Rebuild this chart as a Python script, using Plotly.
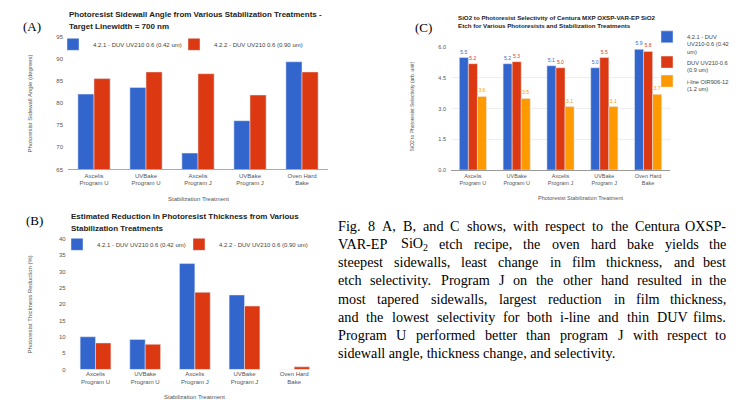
import plotly.graph_objects as go

W, H = 740, 402


def px(x):
    return x / W


def py(y):
    return 1 - y / H


# ---------------- data ----------------
categories = ["Axcelis<br>Program U", "UVBake<br>Program U", "Axcelis<br>Program J",
              "UVBake<br>Program J", "Oven Hard<br>Bake"]

angle_042 = [82.0, 83.5, 68.7, 76.0, 89.3]
angle_090 = [85.5, 87.0, 86.6, 81.8, 87.0]
angle_ticks = [65, 70, 75, 80, 85, 90, 95]
angle_grid = [70, 80, 85]

reduction_042 = [10.0, 9.2, 32.4, 22.8, 0.0]
reduction_090 = [8.1, 7.7, 23.6, 19.4, 0.8]
reduction_ticks = [0, 5, 10, 15, 20, 25, 30, 35, 40]
reduction_grid = [15]

select_042 = [5.5, 5.2, 5.1, 5.0, 5.9]
select_09 = [5.2, 5.3, 5.0, 5.5, 5.8]
select_iline = [3.6, 3.5, 3.1, 3.1, 3.7]
select_ticks = [0, 1.5, 3.0, 4.5, 6.0]
select_ticktext = ["0.0", "1.5", "3.0", "4.5", "6.0"]

BLUE, RED, ORANGE = "#3366cc", "#dc3912", "#ff9900"
SANS = "Liberation Sans, Arial, sans-serif"
SERIF = "Liberation Serif, Times New Roman, serif"

fig = go.Figure()

# ---------------- chart A ----------------
fig.add_trace(go.Bar(x=categories, y=angle_042, name="4.2.1 - DUV UV210 0.6 (0.42 um)",
                     marker_color=BLUE, xaxis="x", yaxis="y", legend="legend", showlegend=True))
fig.add_trace(go.Bar(x=categories, y=angle_090, name="4.2.2 - DUV UV210 0.6 (0.90 um)",
                     marker_color=RED, xaxis="x", yaxis="y", legend="legend4", showlegend=True))

# ---------------- chart B ----------------
fig.add_trace(go.Bar(x=categories, y=reduction_042, name="4.2.1 - DUV UV210 0.6 (0.42 um)",
                     marker_color=BLUE, xaxis="x2", yaxis="y2", legend="legend2", showlegend=True))
fig.add_trace(go.Bar(x=categories, y=reduction_090, name="4.2.2 - DUV UV210 0.6 (0.90 um)",
                     marker_color=RED, xaxis="x2", yaxis="y2", legend="legend5", showlegend=True))

# ---------------- chart C ----------------
for vals, nm, col in [(select_042, "4.2.1 - DUV<br>UV210-0.6 (0.42<br>um)", BLUE),
                      (select_09, "DUV UV210-0.6<br>(0.9 um)", RED),
                      (select_iline, "i-line OIR906-12<br>(1.2 um)", ORANGE)]:
    fig.add_trace(go.Bar(x=categories, y=vals, name=nm, marker_color=col,
                         xaxis="x3", yaxis="y3", legend="legend3", showlegend=True,
                         text=[f"{v:.1f}" for v in vals], textposition="outside",
                         textfont=dict(size=5, color=col, family=SANS), cliponaxis=False))

tickfont = dict(size=6, color="#555", family=SANS)


def hlegend(x, y):
    return dict(orientation="h", x=px(x), y=py(y), xanchor="left", yanchor="middle",
                font=dict(size=6, color="#444", family=SANS), bgcolor="rgba(0,0,0,0)",
                itemwidth=30, itemclick=False, visible=True)


fig.update_layout(
    width=W, height=H, autosize=False, showlegend=True,
    margin=dict(l=0, r=0, t=0, b=0),
    paper_bgcolor="white", plot_bgcolor="white",
    barmode="group", bargap=0.38, bargroupgap=0.0,
    font=dict(family=SANS),
    # A
    xaxis=dict(domain=[px(68), px(328)], anchor="y", type="category", tickfont=tickfont,
               showline=True, linecolor="#aaa", linewidth=1, ticks=""),
    yaxis=dict(domain=[py(169), py(34)], anchor="x", range=[65, 95], tickvals=angle_ticks,
               showgrid=False, zeroline=False, tickfont=tickfont, ticklabelstandoff=4),
    yaxis4=dict(overlaying="y", anchor="x", range=[65, 95], tickvals=angle_grid,
                showgrid=True, gridcolor="#d0d0d0", showticklabels=False, zeroline=False),
    # B
    xaxis2=dict(domain=[px(70.7), px(319)], anchor="y2", type="category", tickfont=tickfont,
                showline=False, ticks=""),
    yaxis2=dict(domain=[py(372), py(239.3)], anchor="x2", range=[0, 40], tickvals=reduction_ticks,
                showgrid=False, zeroline=False, tickfont=tickfont, ticklabelstandoff=4),
    yaxis5=dict(overlaying="y2", anchor="x2", range=[0, 40], tickvals=reduction_grid,
                showgrid=True, gridcolor="#c8c8c8", showticklabels=False, zeroline=False),
    # C
    xaxis3=dict(domain=[px(451), px(670)], anchor="y3", type="category",
                tickfont=dict(size=5.5, color="#555", family=SANS),
                showline=True, linecolor="#999", linewidth=1, ticks=""),
    yaxis3=dict(domain=[py(169.5), py(45)], anchor="x3", range=[0, 6], tickvals=select_ticks,
                ticktext=select_ticktext, showgrid=True, gridcolor="#eeeeee", zeroline=False,
                tickfont=dict(size=5.5, color="#555", family=SANS), ticklabelstandoff=4),
    legend=hlegend(53, 42),
    legend4=hlegend(174, 42),
    legend2=hlegend(57, 245),
    legend5=hlegend(179, 245),
    legend3=dict(orientation="v", x=px(647), y=py(24), xanchor="left", yanchor="top",
                 font=dict(size=5.7, color="#444", family=SANS), bgcolor="rgba(0,0,0,0)",
                 itemwidth=30, valign="top", tracegroupgap=0, itemclick=False),
)

ann = []


def note(text, x, y, size, color="#222", family=SANS, xanchor="left", yanchor="middle",
         angle=0, weight="normal"):
    ann.append(dict(text=text, x=px(x), y=py(y), xref="paper", yref="paper",
                    xanchor=xanchor, yanchor=yanchor, showarrow=False, textangle=angle,
                    font=dict(size=size, color=color, family=family, weight=weight)))


# panel letters
note("(A)", 21, 24, 13, "#000", SERIF)
note("(B)", 24, 221, 13, "#000", SERIF)
note("(C)", 413, 25, 13, "#000", SERIF)

# titles
note("Photoresist Sidewall Angle from Various Stabilization Treatments -", 67, 12, 8, weight="bold")
note("Target Linewidth = 700 nm", 67, 24, 8, weight="bold")
note("Estimated Reduction In Photoresist Thickness from Various", 69, 217, 8, weight="bold")
note("Stabilization Treatments", 69, 228.5, 8, weight="bold")
note("SiO2 to Photoresist Selectivity of Centura MXP OXSP-VAR-EP SiO2", 456, 14.5, 6.2, weight="bold")
note("Etch for Various Photoresists and Stabilization Treatments", 456, 23, 6.2, weight="bold")

# axis titles
note("Photoresist Sidewall Angle (degrees)", 30, 102, 6, "#555", xanchor="center", angle=-90)
note("Stabilization Treatment", 198, 199, 6, "#555", xanchor="center")
note("Photoresist Thickness Reduction (%)", 30, 306, 6, "#555", xanchor="center", angle=-90)
note("Stabilization Treatment", 195, 399.5, 6, "#555", xanchor="center")
note("SiO2 to Photoresist Selectivity (arb. unit)", 412, 105, 5, "#555", xanchor="center", angle=-90)
note("Photoresist Stabilization Treatment", 580, 198, 5.5, "#555", xanchor="center")

# ---------------- paragraph (justified) ----------------
TW = {' ': 250, 'a': 444, 'b': 500, 'c': 444, 'd': 500, 'e': 444, 'f': 333, 'g': 500, 'h': 500,
      'i': 278, 'j': 278, 'k': 500, 'l': 278, 'm': 778, 'n': 500, 'o': 500, 'p': 500, 'q': 500,
      'r': 333, 's': 389, 't': 278, 'u': 500, 'v': 500, 'w': 722, 'x': 500, 'y': 500, 'z': 444,
      'A': 722, 'B': 667, 'C': 667, 'D': 722, 'E': 611, 'F': 556, 'G': 722, 'H': 722, 'I': 333,
      'J': 389, 'K': 722, 'L': 611, 'M': 889, 'N': 722, 'O': 722, 'P': 556, 'Q': 722, 'R': 667,
      'S': 556, 'T': 611, 'U': 722, 'V': 722, 'W': 944, 'X': 722, 'Y': 722, 'Z': 611,
      ',': 250, '.': 250, '-': 333, '2': 500, '8': 500}
FS = 14.2


def wwidth(word):
    if word == "SiO<sub>2</sub>":
        return (556 + 278 + 722 + 350) * FS / 1000
    return sum(TW.get(c, 500) for c in word) * FS / 1000


lines = [
    "Fig. 8 A, B, and C shows, with respect to the Centura OXSP-",
    "VAR-EP SiO<sub>2</sub> etch recipe, the oven hard bake yields the",
    "steepest sidewalls, least change in film thickness, and best",
    "etch selectivity. Program J on the other hand resulted in the",
    "most tapered sidewalls, largest reduction in film thickness,",
    "and the lowest selectivity for both i-line and thin DUV films.",
    "Program U performed better than program J with respect to",
    "sidewall angle, thickness change, and selectivity.",
]
LEFT, RIGHT, TOP, LH = 337, 727, 226, 18.5
for i, line in enumerate(lines):
    yy = TOP + i * LH
    words = line.split(" ")
    if i == len(lines) - 1:
        note(line, LEFT - 1, yy, FS, "#000", SERIF)
        continue
    widths = [wwidth(w) for w in words]
    gap = (RIGHT - LEFT - sum(widths)) / (len(words) - 1)
    xcur = LEFT
    for j, w in enumerate(words):
        if j == len(words) - 1:
            note(w, RIGHT + 1, yy, FS, "#000", SERIF, xanchor="right")
        else:
            note(w, xcur - 1, yy, FS, "#000", SERIF)
        xcur += widths[j] + gap

fig.update_layout(annotations=ann)
fig.write_html("out.html", config={"displayModeBar": False},
               post_script="document.body.style.margin='0';document.body.style.overflow='hidden';")
